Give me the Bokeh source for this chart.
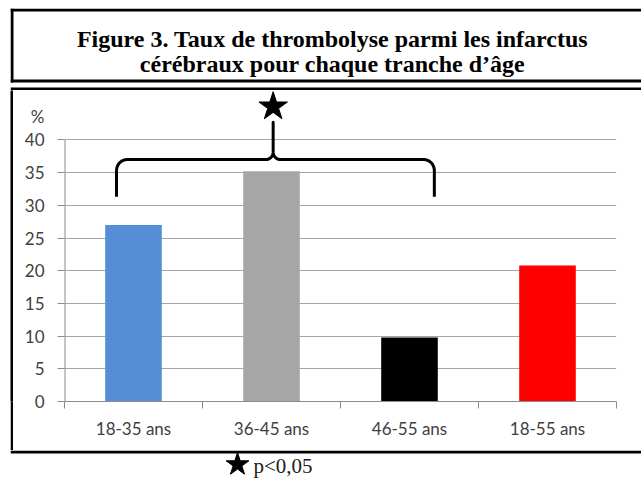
import numpy as np
from bokeh.plotting import figure
from bokeh.models import Range1d, FixedTicker, ColumnDataSource
from bokeh.layouts import column, row
from bokeh.embed import file_html
from bokeh.resources import INLINE
from bokeh.core.properties import value

# ---- data ----
title_lines = ["Figure 3. Taux de thrombolyse parmi les infarctus",
               "cérébraux pour chaque tranche d’âge"]
categories = ["18-35 ans", "36-45 ans", "46-55 ans", "18-55 ans"]
rates = [27.0, 35.2, 9.8, 20.8]
bar_colors = ["#558ED5", "#A6A6A6", "#000000", "#FF0000"]
y_ticks = [0, 5, 10, 15, 20, 25, 30, 35, 40]
y_unit = "%"
signif_note = "p<0,05"

# ---- styles ----
LABEL_FONT = "Lato"
LABEL_COLOR = "#404040"
GRID = "#A6A6A6"
AXIS = "#8C8C8C"
LEFT = 10
BW = 3  # border width
FULLW = 631


def blank(w, h, fill="white", margin=(0, 0, 0, 0)):
    f = figure(width=w, height=h, x_range=Range1d(0, w), y_range=Range1d(h, 0),
               x_axis_type=None, y_axis_type=None, output_backend="svg", title=None,
               toolbar_location=None, min_border=0, margin=margin)
    f.grid.visible = False
    f.outline_line_color = None
    f.background_fill_color = fill
    f.border_fill_color = fill
    return f


# ---- header: title box + gap + top border of chart box ----
TBOX = 74
GAP = 5
HH = TBOX + GAP + BW
pt = blank(FULLW, HH, margin=(8, 0, 0, LEFT))
pt.quad(left=[0, 0, 0, 0], right=[BW, FULLW, FULLW, FULLW],
        top=[0, 0, TBOX - BW, TBOX + GAP], bottom=[TBOX, BW, TBOX, HH],
        fill_color="black", line_color=None)
pt.text(x=[322, 322], y=[30, 55], text=title_lines,
        text_font=value("Liberation Serif"), text_font_style="bold",
        text_font_size="24px", text_align="center", text_baseline="alphabetic",
        text_color="black")

# ---- chart ----
CW, CH = 628, 360
unit_pos = 43.6
p = figure(width=CW, height=CH, x_range=Range1d(0, len(categories)), y_range=Range1d(0, 47.57),
           output_backend="svg", toolbar_location=None, title=None,
           min_border_left=51, min_border_right=25, min_border_top=0, min_border_bottom=49)
p.outline_line_color = None
p.xgrid.visible = False
p.ygrid.ticker = FixedTicker(ticks=y_ticks)
p.ygrid.grid_line_color = GRID
p.ygrid.grid_line_width = 1

centers = [i + 0.5 for i in range(len(categories))]
src = ColumnDataSource(dict(x=centers, top=rates, color=bar_colors))
p.vbar(x="x", top="top", width=0.41, fill_color="color", line_color=None, source=src)

# y axis: numeric labels + unit label above; tick marks drawn as minor ticks
p.yaxis.ticker = FixedTicker(ticks=y_ticks + [unit_pos], minor_ticks=y_ticks)
p.yaxis.major_label_overrides = {unit_pos: y_unit}
p.yaxis.axis_line_color = None
p.yaxis.major_tick_out = 0
p.yaxis.major_tick_in = 0
p.yaxis.minor_tick_out = 7
p.yaxis.minor_tick_in = 0
p.yaxis.minor_tick_line_color = AXIS
p.yaxis.major_label_standoff = 13
p.yaxis.major_label_text_font = LABEL_FONT
p.yaxis.major_label_text_font_size = "17px"
p.yaxis.major_label_text_color = LABEL_COLOR
p.segment(x0=[0], y0=[y_ticks[0]], x1=[0], y1=[y_ticks[-1]], line_color=AXIS, line_width=2)

# x axis: labels at centers, ticks at boundaries
p.xaxis.ticker = FixedTicker(ticks=centers, minor_ticks=list(range(len(categories) + 1)))
p.xaxis.major_label_overrides = {c: lab for c, lab in zip(centers, categories)}
p.xaxis.axis_line_color = AXIS
p.xaxis.major_tick_out = 0
p.xaxis.major_tick_in = 0
p.xaxis.minor_tick_out = 7
p.xaxis.minor_tick_in = 0
p.xaxis.minor_tick_line_color = AXIS
p.xaxis.major_label_standoff = 9
p.xaxis.major_label_text_font = LABEL_FONT
p.xaxis.major_label_text_font_size = "17px"
p.xaxis.major_label_text_color = LABEL_COLOR

# significance bracket (annotation geometry)
bx0, bx1, bxc = 0.377, 2.68, 1.512
yb, yh, yt = 31.3, 37.0, 42.7
rx, ry = 0.075, 1.7
t = np.linspace(0, np.pi / 2, 12)
left_corner_x = bx0 + rx * (1 - np.cos(t))
left_corner_y = (yh - ry) + ry * np.sin(t)
cl_x = (bxc - rx * 0.7) + rx * 0.7 * np.sin(t)
cl_y = yh + ry * 0.7 * (1 - np.cos(t))
xs = np.concatenate([[bx0], left_corner_x, cl_x, [bxc]])
ys = np.concatenate([[yb], left_corner_y, cl_y, [yt]])
cr_x = (bxc + rx * 0.7) - rx * 0.7 * np.sin(t)
right_corner_x = bx1 - rx * (1 - np.cos(t))
xs2 = np.concatenate([[bxc], cr_x[::-1], right_corner_x[::-1], [bx1]])
ys2 = np.concatenate([[yt], cl_y[::-1], left_corner_y[::-1], [yb]])
p.line(np.concatenate([xs, xs2]), np.concatenate([ys, ys2]), line_color="black",
       line_width=3, line_join="round")
p.scatter(x=[bxc], y=[45.1], marker="star", size=30, fill_color="black", line_color="black")

left_bar = blank(BW, CH, fill="black")
chart_row = row(left_bar, p, spacing=0, margin=(0, 0, 0, LEFT))

# ---- footer: bottom border of chart box + significance note ----
FH = 31
pf = blank(FULLW, FH, margin=(0, 0, 0, LEFT))
pf.quad(left=[0], right=[FULLW], top=[0], bottom=[BW], fill_color="black", line_color=None)
pf.scatter(x=[227], y=[14], marker="star", size=24, fill_color="black", line_color="black")
pf.text(x=[243], y=[15], text=[signif_note], text_font=value("Liberation Serif"),
        text_font_size="21px", text_align="left", text_baseline="middle",
        text_color="#202020")

layout = column(pt, chart_row, pf, spacing=0)
open("out.html", "w").write(file_html(layout, INLINE))
